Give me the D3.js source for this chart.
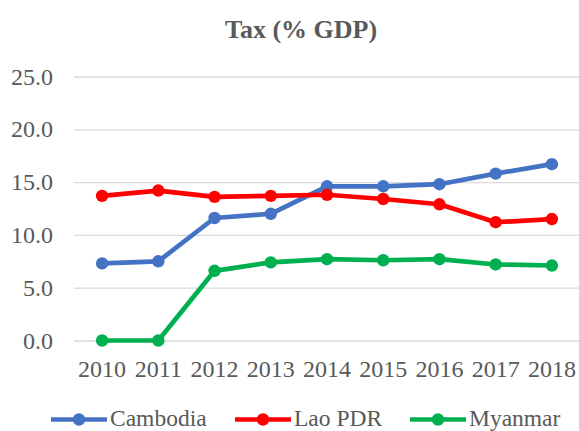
<!DOCTYPE html>
<html>
<head>
<meta charset="utf-8">
<script src="https://cdn.jsdelivr.net/npm/d3@7"></script>
<style>
  html, body { margin: 0; padding: 0; background: #fff; }
  #wrap { position: relative; width: 579px; height: 431px; overflow: hidden; }
  #wrap svg { position: absolute; left: 0; top: 0; display: block; }
  .lbl {
    position: absolute; white-space: nowrap; line-height: 1em;
    font-family: "Liberation Serif", "Times New Roman", Times, serif;
    color: #595959;
  }
</style>
</head>
<body>
<div id="wrap"><svg id="chart" width="579" height="431"></svg></div>
<script>
// Tax revenue as a share of GDP
const years = ["2010", "2011", "2012", "2013", "2014", "2015", "2016", "2017", "2018"];
const cambodia = [7.3, 7.5, 11.6, 12.0, 14.6, 14.6, 14.8, 15.8, 16.7];
const laoPDR   = [13.7, 14.2, 13.6, 13.7, 13.8, 13.4, 12.9, 11.2, 11.5];
const myanmar  = [0.0, 0.0, 6.6, 7.4, 7.7, 7.6, 7.7, 7.2, 7.1];
const seriesNames = ["Cambodia", "Lao PDR", "Myanmar"];
const yTicks = [0, 5, 10, 15, 20, 25];

const colors = ["#4472C4", "#FF0000", "#00B050"];
const series = [cambodia, laoPDR, myanmar].map((vals, i) => ({
  name: seriesNames[i], color: colors[i], values: vals
}));

const wrap = d3.select("#wrap");
const svg = d3.select("#chart");

const x = d3.scaleBand().domain(years).range([74, 580]);
const y = d3.scaleLinear().domain([0, 25]).range([340.5, 76.5]);
const cx = d => x(d) + x.bandwidth() / 2;

// HTML label placed by its baseline; anchor: "start" | "middle" | "end"
const BASE = 0.8375; // baseline offset for line-height 1em
function label(text, px, baseline, size, anchor, bold) {
  const shift = anchor === "middle" ? "-50%" : anchor === "end" ? "-100%" : "0";
  return wrap.append("div").attr("class", "lbl")
    .style("left", px + "px")
    .style("top", (baseline - BASE * size) + "px")
    .style("font-size", size + "px")
    .style("font-weight", bold ? "bold" : "normal")
    .style("transform", `translateX(${shift})`)
    .text(text);
}

// title
label("Tax (% GDP)", 301, 38.5, 26, "middle", true);

// horizontal gridlines
const yAxis = d3.axisLeft(y).tickValues(yTicks).tickFormat("").tickSize(-(580 - 74));
const gy = svg.append("g").attr("transform", "translate(74,0)").call(yAxis);
gy.select(".domain").remove();
gy.selectAll(".tick line").attr("stroke", "#d9d9d9").attr("stroke-width", 1.3);
gy.selectAll(".tick text").remove();

// value labels
const fmt = d3.format(".1f");
yTicks.forEach(v => label(fmt(v), 53, y(v) + 8.2, 24, "end", false));

// category labels
years.forEach(yr => label(yr, cx(yr), 377, 24, "middle", false));

const line = d3.line().x((d, i) => cx(years[i])).y(d => y(d));

// lines and markers
series.forEach(s => {
  svg.append("path")
    .datum(s.values)
    .attr("d", line)
    .attr("fill", "none")
    .attr("stroke", s.color)
    .attr("stroke-width", 4.7)
    .attr("stroke-linejoin", "round");
  svg.append("g").selectAll("circle")
    .data(s.values)
    .join("circle")
    .attr("cx", (d, i) => cx(years[i]))
    .attr("cy", d => y(d))
    .attr("r", 6.2)
    .attr("fill", s.color);
});

// legend
const legendX = [51, 235, 410];
const legendY = 419.5;
const lg = svg.append("g").selectAll("g").data(series).join("g")
  .attr("transform", (d, i) => `translate(${legendX[i]},${legendY})`);
lg.append("line")
  .attr("x1", 0).attr("x2", 56).attr("y1", 0).attr("y2", 0)
  .attr("stroke", d => d.color).attr("stroke-width", 4.7);
lg.append("circle")
  .attr("cx", 28).attr("cy", 0).attr("r", 6.2)
  .attr("fill", d => d.color);
series.forEach((s, i) => label(s.name, legendX[i] + 59, legendY + 7.5, 23.5, "start", false));
</script>
</body>
</html>
